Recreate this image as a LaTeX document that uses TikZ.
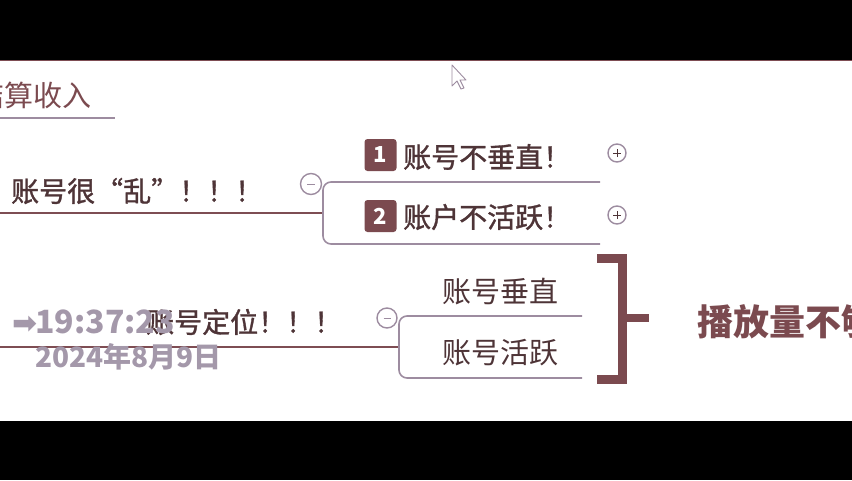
\documentclass[tikz,border=0pt]{standalone}
\usepackage{fontspec}
\newfontfamily\cjk{Noto Sans CJK SC}
\newfontfamily\cjkm{Noto Sans CJK SC}[FakeBold=1.2]
\newfontfamily\symf{DejaVu Sans}
\definecolor{brownc}{HTML}{7B4A4F}
\definecolor{darkt}{HTML}{4E3437}
\definecolor{lineb}{HTML}{7E4D53}
\definecolor{linep}{HTML}{9D8CA0}
\definecolor{stamp}{HTML}{A498AA}
\tikzset{
  topic/.style={inner sep=0pt, text=darkt, font=\cjkm\fontsize{28}{28}\selectfont},
  subtopic/.style={inner sep=0pt, text=darkt, font=\cjk\fontsize{29}{29}\selectfont},
  badge/.style={fill=brownc, rounded corners=3pt, minimum size=32pt, inner sep=0pt, text=white, font=\cjk\bfseries\fontsize{22}{22}\selectfont},
  uline/.style={draw=lineb, line width=1.6pt},
  bline/.style={draw=linep, line width=1.6pt, rounded corners=8pt},
  toggle/.style={circle, draw=linep, line width=1.4pt, fill=white, inner sep=0pt},
  stampt/.style={inner sep=0pt, text=stamp, font=\cjk\bfseries\fontsize{32}{32}\selectfont},
}
\begin{document}
\begin{tikzpicture}[x=1pt,y=-1pt]
\useasboundingbox (0,0) rectangle (852,480);
\fill[black] (0,0) rectangle (852,60);
\fill[black] (0,421) rectangle (852,480);
\draw[lineb, line width=1pt] (0,60.5) -- (852,60.5);
\begin{scope}
\clip (0,61) rectangle (852,421);
% top-left partial topic
\node[anchor=west, inner sep=0pt, text=brownc, font=\cjk\fontsize{29}{29}\selectfont] (jiesuan) at (-25,95) {结算收入};
\coordinate (ju0) at (0,118);
\coordinate (ju1) at (115,118);
\draw[draw=linep, line width=1.6pt] (ju0) -- (ju1);

% first branch
\node[topic, anchor=west] (luan) at (11,191) {账号很“乱”！！！};
\coordinate (l0) at (0,213);
\coordinate (lj) at (323,213);
\draw[uline] (l0) -- (lj);
\coordinate (b1a) at (600,182);
\coordinate (b1b) at (600,244);
\draw[bline] (b1a) -- (323,182) -- (323,244) -- (b1b);
\node[toggle, minimum size=21pt] (c1) at (311,184) {};
\draw[linep, line width=0.8pt] ([xshift=-4pt]c1.center) -- ([xshift=4pt]c1.center);

\node[badge] (bd1) at (380.5,155) {1};
\node[topic, anchor=west] (t1) at (403,157) {账号不垂直！};
\node[badge] (bd2) at (380.5,216) {2};
\node[topic, anchor=west] (t2) at (403,217) {账户不活跃！};
\node[toggle, minimum size=18pt] (p1) at (617,153) {};
\draw[darkt, line width=1pt] ([xshift=-4pt]p1.center) -- ([xshift=4pt]p1.center) ([yshift=-4pt]p1.center) -- ([yshift=4pt]p1.center);
\node[toggle, minimum size=18pt] (p2) at (617,215) {};
\draw[darkt, line width=1pt] ([xshift=-4pt]p2.center) -- ([xshift=4pt]p2.center) ([yshift=-4pt]p2.center) -- ([yshift=4pt]p2.center);

% second branch
\node[topic, anchor=west] (dingwei) at (146,322) {账号定位！！！};
\coordinate (d0) at (0,347);
\coordinate (dj) at (399,347);
\draw[uline] (d0) -- (dj);
\coordinate (b2a) at (582,316);
\coordinate (b2b) at (582,378);
\draw[bline] (b2a) -- (399,316) -- (399,378) -- (b2b);
\node[toggle, minimum size=20pt] (c2) at (387,318) {};
\draw[linep, line width=0.8pt] ([xshift=-3.5pt]c2.center) -- ([xshift=3.5pt]c2.center);
\node[subtopic] (t3) at (500,292) {账号垂直};
\node[subtopic] (t4) at (500,353) {账号活跃};

% big bracket
\coordinate (k0) at (597,258.5);
\coordinate (k1) at (597,379.5);
\draw[brownc, line width=9pt, line join=miter] (k0) -- (622.5,258.5) -- (622.5,379.5) -- (k1);
\coordinate (kt0) at (627,318);
\node[anchor=west, inner sep=0pt, text=brownc, font=\cjk\bfseries\fontsize{36}{36}\selectfont] (bofang) at (697,322) {播放量不够};
\draw[brownc, line width=8pt] (kt0) -- (649,318);

% timestamp overlay
\node[stampt, anchor=west] (clock) at (12,322) {{\symf\fontsize{30}{30}\selectfont ➡}\hspace{-2pt}19:37:23};
\node[stampt, anchor=west, font=\cjk\bfseries\fontsize{28}{28}\selectfont] (date) at (35,357) {2024年8月9日};

% mouse cursor
\draw[linep, fill=white, line width=0.9pt, line join=round]
  (452,65) -- (452,86) -- (457,81) -- (461,89) -- (464,88) -- (460,80) -- (466,80) -- cycle;
\end{scope}
\end{tikzpicture}
\end{document}
